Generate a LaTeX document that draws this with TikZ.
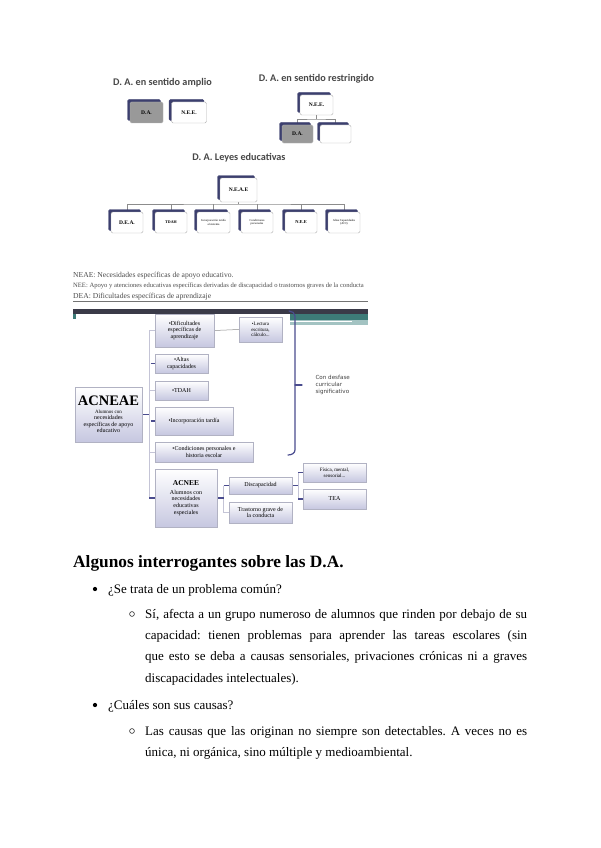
\documentclass[tikz,border=0pt]{standalone}
\usepackage{fontspec}
\setmainfont{Liberation Serif}
\setsansfont{Carlito}
\newfontfamily\dvsans{DejaVu Sans}
\usetikzlibrary{shadows,backgrounds}
\frenchspacing

\definecolor{navy}{HTML}{3C3F6E}
\definecolor{lav}{HTML}{C6C7E0}
\definecolor{dkbar}{HTML}{3A3A48}
\definecolor{teal1}{HTML}{3D7B78}
\definecolor{teal2}{HTML}{A3C3C2}
\definecolor{brk}{HTML}{4A4C8E}
\definecolor{lnk}{HTML}{C4C4D6}

\tikzset{
  ttl/.style={font=\sffamily\bfseries\fontsize{10.2}{11}\selectfont, text=black!72},
  blk/.style={draw=black!30, rounded corners=1.5pt, inner sep=1pt, align=center,
    font=\bfseries\fontsize{5.5}{6}\selectfont,
    copy shadow={shadow xshift=-2.5pt, shadow yshift=2.5pt, fill=navy, draw=navy}},
  gry/.style={blk, fill=black!40},
  wht/.style={blk, fill=white},
  tny/.style={font=\mdseries\fontsize{3}{3.4}\selectfont},
  flw/.style={draw=lav!70!gray, top color=white, bottom color=lav, align=center,
    inner sep=1pt, font=\fontsize{6}{6.6}\selectfont,
    drop shadow={shadow xshift=1pt, shadow yshift=-1pt, opacity=.35}},
  tree/.style={draw=black!45, line width=.5pt},
  lnk/.style={draw=lnk, line width=.6pt},
  dsh/.style={draw=brk, line width=1.6pt},
  brace/.style={draw=brk, line width=1.2pt, line cap=round},
  lgd/.style={anchor=base west, inner sep=0pt, text=black!70},
  txt/.style={anchor=base west, inner sep=0pt, font=\fontsize{13}{21.4}\selectfont},
}

\begin{document}
\begin{tikzpicture}[x=1pt,y=-1pt]
\useasboundingbox (0,0) rectangle (600,848);

% D. A. en sentido amplio
\node[ttl] (t1) at (162.5,83) {D. A. en sentido amplio};
\node[gry, minimum width=33pt, minimum height=21pt] (da1) at (146.5,112.5) {D.A.};
\node[wht, minimum width=35pt, minimum height=21pt] (nee1) at (189,112.5) {N.E.E.};

% D. A. en sentido restringido
\node[ttl] (t2) at (316.5,79) {D. A. en sentido restringido};
\node[wht, minimum width=33pt, minimum height=20pt] (nee2) at (316.5,105) {N.E.E.};
\node[gry, minimum width=31pt, minimum height=18pt] (da2) at (297.5,134) {D.A.};
\node[wht, minimum width=31pt, minimum height=18pt] (emp2) at (335.5,134) {};
\coordinate (j2) at (316.5,119);

% D. A. Leyes educativas
\node[ttl] (t3) at (239,158) {D. A. Leyes educativas};
\node[wht, minimum width=37pt, minimum height=24pt] (neae) at (238.5,190) {N.E.A.E};
\node[wht, minimum width=32pt, minimum height=21pt] (c1) at (127,222.5) {D.E.A.};
\node[wht, minimum width=32pt, minimum height=21pt, font=\bfseries\fontsize{4}{4.5}\selectfont] (c2) at (171,222.5) {TDAH};
\node[wht, minimum width=33pt, minimum height=21pt, tny] (c3) at (213.5,222.5) {Incorporación tardía\\al sistema};
\node[wht, minimum width=32pt, minimum height=21pt, tny] (c4) at (257,222.5) {Condiciones\\personales};
\node[wht, minimum width=32pt, minimum height=21pt, font=\bfseries\fontsize{4.5}{5}\selectfont] (c5) at (301,222.5) {N.E.E};
\node[wht, minimum width=32pt, minimum height=21pt, tny] (c6) at (344,222.5) {Altas Capacidades\\(ACI)};
\coordinate (j3) at (238.5,204);

\begin{scope}[on background layer]
\draw[tree] (nee2) -- (j2);
\draw[tree] (da2.north) |- (j2) -| (emp2.north);
\draw[tree] (neae) -- (j3);
\draw[tree] (c1.north) |- (j3) -| (c6.north);
\draw[tree] (c2.north) -- (c2.north |- j3);
\draw[tree] (c3.north) -- (c3.north |- j3);
\draw[tree] (c4.north) -- (c4.north |- j3);
\draw[tree] (c5.north) -- (c5.north |- j3);
\end{scope}

% leyenda
\node[lgd, font=\fontsize{7.6}{8}\selectfont] (l1) at (73,277) {NEAE: Necesidades específicas de apoyo educativo.};
\node[lgd, font=\fontsize{6.6}{7}\selectfont] (l2) at (73,287.5) {NEE: Apoyo y atenciones educativas específicas derivadas de discapacidad o trastornos graves de la conducta};
\node[lgd, font=\fontsize{7.6}{8}\selectfont] (l3) at (73,298) {DEA: Dificultades específicas de aprendizaje};
\draw[black!55, line width=.6pt] (73,301.5) -- (368,301.5);

% banda superior
\fill[dkbar] (73,309) rectangle (368,314);
\fill[teal2] (290,314) rectangle (368,324.5);
\fill[teal1] (290,314) rectangle (368,320);
\draw[white, line width=.9pt] (290,321.8) -- (352,321.8);
\fill[teal1] (73,314) rectangle (76,319);

% ACNEAE
\node[flw, minimum width=67pt, minimum height=55pt] (acneae) at (108.5,414.5)
  {{\fontsize{14.5}{15}\selectfont\bfseries ACNEAE}\\[1pt]
   \fontsize{5}{5.6}\selectfont Alumnos con\\necesidades\\específicas de apoyo\\educativo};
\node[flw, minimum width=59pt, minimum height=33pt] (dif) at (184.5,330.5) {•Dificultades\\específicas de\\aprendizaje};
\node[flw, minimum width=43pt, minimum height=25pt, font=\fontsize{5}{5.6}\selectfont] (lec) at (260.5,329.5) {•Lectura\\escritura,\\cálculo...};
\node[flw, minimum width=53pt, minimum height=19pt] (alt) at (181.5,363.5) {•Altas\\capacidades};
\node[flw, minimum width=53pt, minimum height=19pt] (tdah) at (181.5,390.5) {•TDAH};
\node[flw, minimum width=78pt, minimum height=28pt] (inc) at (194,421) {•Incorporación tardía};
\node[flw, minimum width=98pt, minimum height=20pt] (con) at (204,452) {•Condiciones personales e\\historia escolar};
\node[flw, minimum width=62pt, minimum height=58pt] (acnee) at (186,498)
  {{\bfseries\fontsize{7.5}{8}\selectfont ACNEE}\\[2pt]Alumnos con\\necesidades\\educativas\\especiales};
\node[flw, minimum width=63pt, minimum height=17pt] (disc) at (260.5,485.5) {Discapacidad};
\node[flw, minimum width=63pt, minimum height=21pt] (tgc) at (260.5,512.5) {Trastorno grave de\\la conducta};
\node[flw, minimum width=63pt, minimum height=19pt, font=\fontsize{5}{5.6}\selectfont] (fis) at (334.5,472.5) {Física, mental,\\sensorial...};
\node[flw, minimum width=63pt, minimum height=20pt] (tea) at (334.5,499) {TEA};
\node[anchor=west, align=left, font=\dvsans\fontsize{5.6}{7}\selectfont, text=black!75] (desf) at (312,385) {Con desfase\\curricular\\significativo};

\coordinate (sp) at (149,0);
\coordinate (s2) at (223.5,0);
\coordinate (s3) at (298,0);
\begin{scope}[on background layer]
\draw[lnk] (sp |- dif.west) -- (sp |- acnee.west);
\draw[lnk] (sp |- dif.west) -- (dif.west);
\draw[lnk] (sp |- tdah.west) -- (tdah.west);
\draw[lnk] (sp |- con.west) -- (con.west);
\draw[dsh] (acneae.east) -- (acneae.east -| sp);
\draw[dsh, shorten <=1.5pt] (sp |- alt.west) -- (alt.west);
\draw[dsh, shorten <=1.5pt] (sp |- inc.west) -- (inc.west);
\draw[dsh] (sp |- acnee.west) -- (acnee.west);
\draw[tree] (dif.east) -- (lec.west);
\draw[lnk] (s2 |- disc.west) -- (s2 |- tgc.west);
\draw[lnk] (s2 |- tgc.west) -- (tgc.west);
\draw[dsh] (acnee.east) -- (acnee.east -| s2);
\draw[dsh] (s2 |- disc.west) -- (disc.west);
\draw[lnk] (s3 |- fis.west) -- (s3 |- tea.west);
\draw[dsh] (disc.east) -- (disc.east -| s3);
\draw[dsh] (s3 |- fis.west) -- (fis.west);
\draw[dsh] (s3 |- tea.west) -- (tea.west);
\end{scope}

% llave
\coordinate (b1) at (289,311);
\coordinate (b2) at (295,316);
\coordinate (b3) at (295,450);
\coordinate (b4) at (288,455);
\coordinate (bm) at (295,385);
\coordinate (bt) at (302,385);
\draw[brace] (b1) to[out=0, in=90] (b2) -- (b3) to[out=-90, in=0] (b4);
\draw[brace] (bm) -- (bt);

% texto
\node[txt, font=\bfseries\fontsize{17.3}{18}\selectfont] (hd) at (73,567) {Algunos interrogantes sobre las D.A.};
\node[circle, fill, inner sep=1.5pt] (bu1) at (95,589) {};
\node[txt] (q1) at (108,593) {¿Se trata de un problema común?};
\node[circle, draw, line width=.5pt, inner sep=1.7pt] (bo1) at (132,614) {};
\node[txt, text width=382pt, align=justify] (p1) at (145,618)
  {Sí, afecta a un grupo numeroso de alumnos que rinden por debajo de su\linebreak
   capacidad: tienen problemas para aprender las tareas escolares (sin\linebreak
   que esto se deba a causas sensoriales, privaciones crónicas ni a graves\linebreak
   discapacidades intelectuales).};
\node[circle, fill, inner sep=1.5pt] (bu2) at (95,705) {};
\node[txt] (q2) at (108,709) {¿Cuáles son sus causas?};
\node[circle, draw, line width=.5pt, inner sep=1.7pt] (bo2) at (132,731) {};
\node[txt, text width=382pt, align=justify] (p2) at (145,735)
  {Las causas que las originan no siempre son detectables. A veces no es\linebreak
   única, ni orgánica, sino múltiple y medioambiental.};
\end{tikzpicture}
\end{document}
